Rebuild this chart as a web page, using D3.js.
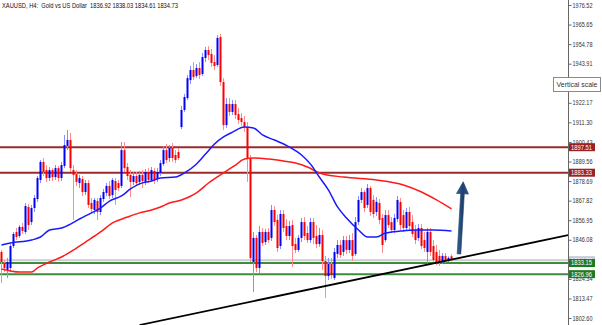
<!DOCTYPE html>
<html>
<head>
<meta charset="utf-8">
<script src="https://d3js.org/d3.v7.min.js"></script>
<style>
  body { margin: 0; background: #fff; }
  text { font-family: "Liberation Sans", Arial, sans-serif; }
</style>
</head>
<body>
<script>

    // H4 candles, oldest first
    var opens = [1839.3,1833.1,1829.3,1830.4,1842.6,1850.4,1848.2,1853.2,1850.4,1864.3,
        1855.9,1863.7,1868.7,1879.3,1889.3,1884.8,1880.4,1884.8,1880.9,1885.9,
        1880.4,1887.1,1898.2,1901.5,1884.8,1882.6,1877.6,1879.8,1872.6,1877.6,
        1866.5,1862.6,1867.6,1861.5,1868.7,1872.1,1876,1870.9,1878.7,1877.6,
        1876,1895.9,1886.5,1882.1,1878.2,1881.5,1878.2,1882.1,1878.2,1883.7,
        1879.3,1884.3,1879.8,1883.2,1888.2,1895.9,1891.5,1897.1,1893.2,1894.8,
        1908.7,1918.2,1924.8,1934.8,1940.4,1937.1,1941.5,1938.2,1947.1,1951.5,
        1949.3,1944.8,1943.2,1958.7,1933.7,1909.8,1921.5,1917.1,1921.5,1915.9,
        1913.7,1911.5,1908.7,1891.5,1833.7,1847.1,1830.4,1850.4,1844.8,1850.4,
        1847.1,1862.6,1857.1,1842.6,1860.4,1853.7,1848.2,1854.3,1843.7,1840.4,
        1847.1,1855.9,1849.8,1845.9,1855.9,1848.2,1843.7,1848.7,1834.2,1825.9,
        1832.6,1824.8,1838.2,1843.2,1839.3,1845.9,1840.4,1845.9,1838.2,1855.9,
        1868.2,1872.6,1865.4,1874.8,1868.2,1861.5,1866.5,1858.2,1845.9,1859.8,
        1855.9,1851.5,1857.6,1867.1,1859.8,1852.6,1861.5,1855.9,1851.5,1847.1,
        1852.6,1845.9,1839.3,1850.4,1842.6,1839.3,1837.1,1833.7,1837.1,1834.3,
        1836.92];
    var highs = [1840.4,1834.8,1836,1843.7,1850.4,1852.6,1854.3,1855.4,1866.5,1865.9,
        1865.4,1870.9,1881.5,1890.4,1891.5,1887.6,1886.5,1885.9,1887.6,1887.1,
        1889.3,1904.3,1907.1,1905.4,1887.6,1884.8,1882.1,1881.5,1879.3,1879.3,
        1869.3,1869.3,1869.3,1870.9,1874.3,1877.6,1878.7,1880.4,1880.4,1879.3,
        1900.4,1900.4,1888.7,1884.8,1883.7,1883.7,1884.3,1884.8,1885.4,1885.9,
        1886.5,1885.9,1885.9,1890.4,1898.2,1899.3,1898.7,1899.8,1895.9,1897.1,
        1920.4,1927.1,1937.6,1942.6,1944.8,1943.7,1944.8,1949.8,1953.2,1953.7,
        1952.1,1948.7,1959.8,1960.4,1935.9,1924.8,1924.8,1923.7,1923.7,1919.3,
        1916.5,1914.8,1911.5,1893.2,1850.4,1848.7,1853.7,1852.6,1852.1,1852.6,
        1865.4,1864.8,1859.8,1862.6,1862.6,1857.6,1856.5,1857.1,1847.1,1848.7,
        1858.2,1858.7,1853.7,1858.2,1858.2,1854.3,1852.6,1851.5,1837.1,1836,
        1836,1841.5,1845.9,1845.9,1848.2,1848.2,1848.7,1849.8,1858.7,1870.4,
        1874.8,1873.7,1877.1,1875.9,1870.9,1869.8,1868.7,1860.4,1862.6,1862.6,
        1858.7,1860.4,1870.4,1869.3,1862.6,1863.7,1864.3,1859.8,1854.3,1854.8,
        1854.8,1850.4,1852.6,1852.6,1845.9,1843.2,1840.4,1838.7,1838.7,1836.9,
        1838.03];
    var lows = [1822,1828.1,1824.8,1828.1,1841.5,1845.9,1847.1,1849.3,1849.3,1851.5,
        1854.3,1861.5,1867.1,1877.6,1881.5,1878.2,1878.7,1878.7,1879.3,1878.2,
        1878.7,1885.9,1895.9,1883.7,1857.1,1875.9,1874.8,1870.4,1870.9,1863.7,
        1860.9,1860.4,1857.1,1859.8,1867.1,1870.4,1868.7,1869.3,1865.4,1873.2,
        1874.8,1883.7,1879.3,1869.8,1876.5,1875.9,1876.5,1874.8,1876.5,1877.6,
        1878.2,1877.1,1878.2,1881.5,1887.1,1888.7,1889.3,1889.3,1888.7,1890.4,
        1907.6,1917.1,1923.7,1932.6,1934.8,1936,1935.4,1937.1,1944.8,1946,
        1942.1,1940.4,1942.1,1931.5,1907.1,1908.2,1914.8,1915.4,1913.2,1910.4,
        1909.3,1906,1878.2,1833.7,1817.1,1828.1,1827.6,1842.6,1843.2,1844.3,
        1845.4,1853.7,1839.3,1840.9,1850.4,1845.9,1845.9,1830.9,1838.7,1839.3,
        1844.8,1845.9,1844.3,1844.3,1843.7,1841.5,1842.1,1829.3,1813.7,1823.7,
        1824.3,1823.7,1835.9,1835.9,1837.1,1838.2,1838.7,1834.3,1837.1,1854.3,
        1866.5,1861.5,1863.7,1859.3,1858.2,1859.3,1854.8,1838.7,1844.8,1852.6,
        1849.8,1849.8,1855.9,1851.5,1850.4,1850.9,1851.5,1847.6,1843.7,1845.4,
        1840.9,1839.3,1832,1837.1,1833.2,1832,1831.5,1832.6,1833.2,1833.7,
        1834.61];
    var closes = [1833.7,1830.4,1833.7,1842.6,1849.3,1847.6,1853.2,1851,1864.8,1854.3,
        1863.7,1869.3,1880.4,1889.3,1883.7,1880.4,1884.8,1880.9,1885.9,1880.4,
        1887.6,1898.7,1901.5,1885.9,1882.1,1878.2,1880.4,1872.6,1877.6,1865.4,
        1863.2,1868.2,1861.5,1869.3,1872.6,1876,1870.4,1879.3,1873.7,1874.8,
        1895.9,1885.9,1881.5,1878.2,1881.5,1877.6,1882.1,1878.7,1883.7,1879.3,
        1884.8,1879.3,1883.7,1888.7,1895.9,1890.4,1897.1,1891.5,1890.4,1891.5,
        1918.2,1925.4,1935.9,1940.4,1936.5,1941.5,1937.6,1947.6,1951.5,1948.7,
        1944.3,1942.6,1958.2,1933.7,1909.8,1921.5,1917.1,1921.5,1915.4,1912.6,
        1911.5,1908.7,1891.5,1835.9,1847.1,1830.4,1850.4,1844.3,1850.4,1845.9,
        1862.6,1855.9,1841.5,1860.4,1852.6,1848.2,1853.7,1842.6,1840.4,1847.1,
        1855.9,1848.2,1845.9,1855.9,1847.1,1843.7,1848.7,1834.2,1825.9,1832.6,
        1826.5,1839.3,1843.2,1837.6,1845.9,1840.4,1845.9,1837.1,1855.9,1868.2,
        1872.6,1863.7,1874.8,1861.5,1860.4,1867.1,1857.1,1843.2,1859.8,1854.3,
        1851.5,1858.2,1868.2,1854.3,1852.6,1861.5,1853.7,1849.3,1845.9,1852.6,
        1842.6,1841.5,1850.4,1839.3,1834.8,1833.7,1833.2,1837.1,1834.3,1836,
        1834.73];

    // moving averages (bar index, price)
    var fastIdx = [0,3,10,13,16,20,23,26,30,33,36,40,43,46,50,53,58,61,65,68,71,74,77,81,84,87,91,96,100,104,105,109,112,115,119,122,125,128,133,138,144,150];
    var fastMA = [1843.2,1844.3,1845.9,1847.6,1851.5,1852.6,1854.8,1857.6,1861,1863.7,1867.6,1870.4,1874.3,1877.1,1878.7,1880.4,1880.9,1883.2,1888.2,1893.7,1899.3,1903.2,1905.9,1908.7,1908.2,1904.3,1901.5,1897.6,1893.2,1885.9,1883.2,1873.7,1864.3,1858.2,1851.5,1847.6,1847.6,1849.8,1850.9,1851.5,1851.5,1850.9];
    var slowIdx = [0,6,10,12,16,20,24,28,33,37,42,46,50,53,56,60,65,69,74,78,81,84,89,94,98,102,106,114,125,134,140,145,150];
    var slowMA = [1829.8,1828.1,1828.1,1830.4,1833.7,1836.5,1840.4,1844.8,1850.4,1855.4,1858.7,1861,1862.6,1864.3,1866.5,1868.2,1872.1,1877.6,1883.2,1887.6,1890.9,1891.5,1890.9,1889.8,1888.7,1886.5,1883.2,1880.9,1879.3,1876.5,1872.6,1868.2,1863.2];

    // scale labels that are not hidden behind the tooltip or the price tags
    var yTicks = [1976.52,1965.65,1954.78,1943.91,1922.17,1911.30,1900.43,1889.56,1878.69,1867.82,1856.95,1846.08,1824.34,1813.47,1802.60];
    var resistance = [1897.51, 1883.33];
    var support = [1833.15, 1826.96];
    var bid = 1834.73;
    var trendIdx = [46, 189];
    var trendPrice = [1798.7, 1848.7];
    var arrowIdx = [152.5, 153.9];
    var arrowPrice = [1838.2, 1878.3];

    var width = 602;
    var height = 325;
    var axisX = 568;

    var xScale = d3.scaleLinear()
        .domain([0, 150])
        .range([1.5, 451.5]);

    var yScale = d3.scaleLinear()
        .domain([1802.60, 1976.52])
        .range([318, 5]);

    var svg = d3.select('body').append('svg')
        .attr('width', width)
        .attr('height', height);

    svg.append('clipPath').attr('id', 'plot')
        .append('rect')
        .attr('width', axisX)
        .attr('height', height);

    var plot = svg.append('g').attr('clip-path', 'url(#plot)');

    // horizontal levels
    plot.append('line')
        .attr('x1', 0).attr('x2', axisX)
        .attr('y1', yScale(bid)).attr('y2', yScale(bid))
        .attr('stroke', '#c9cdd2').attr('stroke-width', 2);

    plot.selectAll('.res').data(resistance)
        .enter().append('line')
        .attr('x1', 0).attr('x2', axisX)
        .attr('y1', function(d) {return yScale(d)})
        .attr('y2', function(d) {return yScale(d)})
        .attr('stroke', '#9a2b2b').attr('stroke-width', 2);

    plot.selectAll('.sup').data(support)
        .enter().append('line')
        .attr('x1', 0).attr('x2', axisX)
        .attr('y1', function(d) {return yScale(d)})
        .attr('y2', function(d) {return yScale(d)})
        .attr('stroke', '#3f8a3f').attr('stroke-width', 2);

    // candles
    var bars = d3.range(closes.length);

    plot.selectAll('.wick').data(bars)
        .enter().append('line')
        .attr('x1', function(i) {return xScale(i)})
        .attr('x2', function(i) {return xScale(i)})
        .attr('y1', function(i) {return yScale(highs[i])})
        .attr('y2', function(i) {return yScale(lows[i])})
        .attr('stroke', function(i) {return closes[i] >= opens[i] ? '#8c8cff' : '#ff8c8c'})
        .attr('stroke-width', 1);

    plot.selectAll('.body').data(bars)
        .enter().append('rect')
        .attr('x', function(i) {return xScale(i) - 1})
        .attr('width', 2)
        .attr('y', function(i) {return yScale(Math.max(opens[i], closes[i]))})
        .attr('height', function(i) {return Math.max(1, Math.abs(yScale(opens[i]) - yScale(closes[i])))})
        .attr('fill', function(i) {return closes[i] >= opens[i] ? '#0000ff' : '#ff0000'});

    // moving averages
    var maLine = d3.line()
        .x(function(d) {return xScale(d[0])})
        .y(function(d) {return yScale(d[1])})
        .curve(d3.curveMonotoneX);

    plot.append('path')
        .attr('d', maLine(d3.zip(slowIdx, slowMA)))
        .attr('fill', 'none').attr('stroke', '#ff1a1a').attr('stroke-width', 1.5);

    plot.append('path')
        .attr('d', maLine(d3.zip(fastIdx, fastMA)))
        .attr('fill', 'none').attr('stroke', '#1a1aff').attr('stroke-width', 1.5);

    // trend line
    plot.append('line')
        .attr('x1', xScale(trendIdx[0])).attr('y1', yScale(trendPrice[0]))
        .attr('x2', xScale(trendIdx[1])).attr('y2', yScale(trendPrice[1]))
        .attr('stroke', '#000').attr('stroke-width', 1.8);

    // arrow
    var ax0 = xScale(arrowIdx[0]), ay0 = yScale(arrowPrice[0]);
    var ax1 = xScale(arrowIdx[1]), ay1 = yScale(arrowPrice[1]);
    var len = Math.hypot(ax1 - ax0, ay1 - ay0);
    var ux = (ax1 - ax0) / len, uy = (ay1 - ay0) / len;
    var px = -uy, py = ux;
    var shaft = 1.8, head = 6, headLen = 12;
    var hx = ax1 - ux * headLen, hy = ay1 - uy * headLen;
    var pts = [
        [ax0 + px * shaft, ay0 + py * shaft],
        [hx + px * shaft, hy + py * shaft],
        [hx + px * head, hy + py * head],
        [ax1, ay1],
        [hx - px * head, hy - py * head],
        [hx - px * shaft, hy - py * shaft],
        [ax0 - px * shaft, ay0 - py * shaft]
    ];
    var grad = svg.append('defs').append('linearGradient').attr('id', 'arrowFill')
        .attr('x1', 0).attr('x2', 1).attr('y1', 0).attr('y2', 0);
    grad.append('stop').attr('offset', '0%').attr('stop-color', '#3a6699');
    grad.append('stop').attr('offset', '50%').attr('stop-color', '#1d416e');
    grad.append('stop').attr('offset', '100%').attr('stop-color', '#2c5585');
    svg.append('path')
        .attr('d', 'M' + pts.map(function(p) {return p.join(',')}).join('L') + 'Z')
        .attr('fill', 'url(#arrowFill)')
        .attr('stroke', '#1a3a63').attr('stroke-width', 0.6);

    // right price scale
    svg.append('line')
        .attr('x1', axisX + 0.5).attr('x2', axisX + 0.5)
        .attr('y1', 0).attr('y2', height)
        .attr('stroke', '#666');

    var yAxis = d3.axisRight(yScale)
        .tickValues(yTicks)
        .tickSize(3)
        .tickPadding(1)
        .tickFormat(d3.format('.2f'));

    var gY = svg.append('g')
        .attr('transform', 'translate(' + (axisX + 0.5) + ',0)')
        .call(yAxis);
    gY.select('.domain').remove();
    gY.selectAll('line').attr('stroke', '#666');
    gY.selectAll('text')
        .attr('font-size', '6.5px')
        .attr('font-family', '"Liberation Sans", Arial, sans-serif')
        .attr('fill', '#333')
        .attr('textLength', 20)
        .attr('lengthAdjust', 'spacingAndGlyphs');

    // price labels
    function priceLabel(v, fill, textFill) {
        var g = svg.append('g').attr('transform', 'translate(' + (axisX + 1) + ',' + yScale(v) + ')');
        g.append('rect').attr('x', 0).attr('y', -4).attr('width', 26).attr('height', 8).attr('fill', fill);
        g.append('text').attr('x', 2).attr('y', 2.4)
            .attr('font-size', '6.5px').attr('fill', textFill)
            .attr('textLength', 21).attr('lengthAdjust', 'spacingAndGlyphs')
            .text(d3.format('.2f')(v));
    }
    priceLabel(bid, '#c4ccd6', '#fff');
    resistance.forEach(function(v) { priceLabel(v, '#9a2222', '#fff'); });
    support.forEach(function(v) { priceLabel(v, '#1f7a1f', '#fff'); });

    // tooltip
    var tip = svg.append('g').attr('transform', 'translate(553.5,77.5)');
    tip.append('rect').attr('width', 47).attr('height', 14)
        .attr('fill', '#fff').attr('stroke', '#8a8a8a');
    tip.append('text').attr('x', 3).attr('y', 9.5)
        .attr('font-size', '7px').attr('fill', '#333')
        .attr('textLength', 41).attr('lengthAdjust', 'spacingAndGlyphs')
        .text('Vertical scale');

    // header
    svg.append('text')
        .attr('x', 2).attr('y', 8)
        .attr('font-size', '6.5px').attr('fill', '#111')
        .attr('textLength', 176).attr('lengthAdjust', 'spacingAndGlyphs')
        .attr('xml:space', 'preserve')
        .text('XAUUSD, H4:  Gold vs US Dollar  1836.92 1838.03 1834.61 1834.73');

</script>
</body>
</html>
